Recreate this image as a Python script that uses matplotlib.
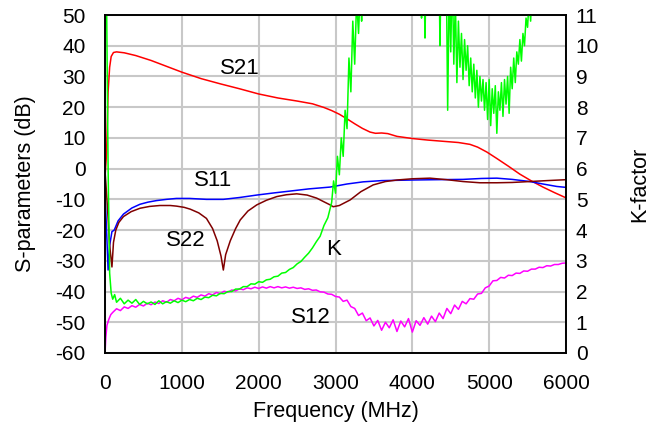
import matplotlib
matplotlib.use("Agg")
import matplotlib.pyplot as plt

plt.rcParams['font.family'] = ['Liberation Sans', 'DejaVu Sans']
plt.rcParams['axes.unicode_minus'] = False

# S21 (red)
s21_f = [0, 20, 40, 60, 80, 110, 150, 250, 400, 600, 800, 1000, 1250, 1500, 1750,
         2000, 2250, 2500, 2700, 2850, 2950, 3050, 3150, 3250, 3350, 3450, 3520,
         3600, 3680, 3800, 4000, 4200, 4400, 4600, 4750, 4850, 4970, 5100, 5250,
         5400, 5550, 5700, 5850, 6000]
s21_db = [-3, 5, 25, 33, 36.5, 37.8, 38.0, 37.7, 36.8, 35.2, 33.3, 31.4, 29.3, 27.6, 26.0,
          24.3, 23.0, 22.0, 21.1, 19.9, 18.9, 17.7, 16.2, 14.6, 13.1, 11.9, 11.5,
          11.6, 11.4, 10.5, 9.8, 9.3, 8.9, 8.5, 7.9, 7.0, 5.4, 3.3, 0.8,
          -1.8, -4.0, -6.0, -7.8, -9.5]

# S11 (blue)
s11_f = [0, 20, 40, 60, 90, 120, 170, 240, 350, 455, 560, 670, 800, 930, 1100, 1320,
         1540, 1750, 1975, 2200, 2410, 2650, 2930, 3150, 3360, 3600, 4010, 4300,
         4660, 4900, 5100, 5300, 5530, 5700, 5880, 6000]
s11_db = [-8, -20, -33, -25, -20.5, -20, -17, -14.8, -12.8, -11.6, -10.9, -10.4, -10, -9.7,
          -9.7, -10, -10, -9.4, -8.6, -7.9, -7.3, -6.6, -6.0, -5.0, -4.3, -3.9, -3.7,
          -3.6, -3.5, -3.2, -3.1, -3.5, -4.2, -5.0, -5.8, -6.1]

# S22 (dark red)
s22_f = [0, 30, 60, 90, 110, 140, 180, 240, 340, 455, 580, 715, 850, 930, 1030, 1110,
         1220, 1320, 1400, 1460, 1510, 1540, 1570, 1630, 1700, 1760, 1860, 1975, 2100,
         2235, 2360, 2495, 2630, 2755, 2850, 2930, 2970, 3050, 3190, 3330, 3490, 3650,
         3800, 4000, 4230, 4450, 4660, 4880, 5100, 5300, 5530, 5750, 6000]
s22_db = [-0.5, -12, -25, -32, -24, -20, -17.5, -15.6, -14, -12.9, -12.3, -12, -12.0, -12.2,
          -12.6, -13.2, -14.4, -16.2, -19.5, -23.5, -28.5, -33, -28, -23.5, -19.5, -16.7,
          -13.8, -11.8, -10.3, -9.1, -8.5, -8.2, -8.6, -9.6, -10.8, -11.8, -12.4, -12.0,
          -10.2, -7.5, -5.3, -4.2, -3.7, -3.3, -3.1, -3.6, -4.2, -4.6, -4.6, -4.5, -4.2,
          -3.9, -3.6]

# S12 (magenta)
s12_f = [0, 10, 25, 50, 75] + list(range(100, 6001, 50))
s12_db = [-60, -55, -51, -49, -47.5,
          -46.8, -45.6, -46.2, -45.0, -45.5, -44.6, -45.1, -44.2, -44.7, -43.8,
          -44.3, -43.4, -43.9, -43.0, -43.5, -42.6, -43.0, -42.2, -42.7, -41.9,
          -42.3, -41.5, -41.9, -41.1, -41.5, -40.7, -41.1, -40.3, -40.7, -39.9,
          -40.2, -39.5, -39.8, -39.1, -39.4, -38.8, -39.1, -38.6, -39.0, -38.5,
          -38.9, -38.4, -38.8, -38.4, -38.8, -38.5, -38.9, -38.6, -39.0, -38.8,
          -39.3, -39.1, -39.6, -39.5, -40.1, -40.2, -40.8, -40.9, -41.6,
          -41.8, -43.2, -42.8, -44.9, -45.5, -47.8, -47.0, -49.5, -48.6, -51.2,
          -49.4, -52.6, -50.0, -51.8, -49.2, -53.0, -49.6, -51.5, -48.8, -53.2,
          -49.5, -51.0, -48.5, -50.6, -48.0, -49.8, -47.0, -48.8, -45.5, -47.2,
          -44.4, -45.8, -43.2, -44.0, -42.3, -42.5, -40.8, -40.6, -38.8, -38.2,
          -36.5, -36.4, -35.4, -35.6, -34.7, -34.8, -34.0, -34.1, -33.3, -33.4,
          -32.7, -32.7, -32.1, -32.2, -31.6, -31.7, -31.2, -31.2, -30.8, -30.7]

# K-factor (green, right axis)
k_f = [0, 20, 40, 60, 80, 100, 125, 150, 200, 250, 300, 350, 400, 450, 500, 550, 600,
       650, 700, 750, 800, 850, 900, 950, 1000, 1050, 1100, 1150, 1200, 1250, 1300,
       1350, 1400, 1450, 1500, 1550, 1600, 1650, 1700, 1750, 1800, 1850, 1900, 1950,
       2000, 2050, 2100, 2150, 2200, 2250, 2300, 2350, 2400, 2450, 2500, 2550, 2600,
       2650, 2700, 2750, 2800, 2850, 2900, 2950, 2975, 3000, 3025, 3050, 3075, 3100,
       3125, 3150, 3175, 3200, 3225, 3250, 3275, 3300, 3325, 3340, 3360, 3500, 3700,
       3900, 4100, 4120, 4140, 4165, 4190, 4340, 4360, 4380, 4420,
       4440, 4460, 4480, 4500, 4520, 4540, 4560, 4580, 4600, 4620, 4640, 4660, 4680,
       4700, 4720, 4740, 4760, 4780, 4800, 4820, 4840, 4860, 4880, 4900, 4920, 4940,
       4960, 4980, 5000, 5020, 5040, 5060, 5080, 5100, 5120, 5140, 5160, 5180, 5200,
       5220, 5240, 5260, 5280, 5300, 5320, 5340, 5360, 5380, 5400, 5420, 5440, 5460,
       5480, 5500, 5520, 5540, 5560, 5600, 5700, 6000]
k_val = [14, 11.5, 6, 2.6, 1.95, 1.75, 1.9, 1.65, 1.78, 1.6, 1.72, 1.62, 1.74, 1.58, 1.68,
         1.6, 1.66, 1.58, 1.7, 1.6, 1.67, 1.62, 1.7, 1.64, 1.72, 1.67, 1.74, 1.7, 1.78,
         1.74, 1.82, 1.8, 1.88, 1.86, 1.94, 1.93, 2.0, 2.0, 2.08, 2.08, 2.16, 2.16, 2.25,
         2.24, 2.32, 2.3, 2.38, 2.4, 2.48, 2.5, 2.6, 2.62, 2.72, 2.78, 2.9, 2.98, 3.12,
         3.25, 3.42, 3.62, 3.8, 4.15, 4.4, 4.9, 5.6, 5.2, 6.4, 5.8, 7.0, 6.4, 7.9, 7.3,
         9.6, 8.5, 10.8, 9.4, 11.5, 10.4, 12, 10.8, 13, 15, 15, 15, 14, 10.9, 14, 10.25,
         14, 14, 10.0, 13.5, 13,
         13, 7.9, 12, 9.8, 12.5, 9.4, 11.5, 8.8, 10.8, 9.3, 10.4, 8.9, 10.2, 9.2, 10.0,
         8.7, 9.6, 8.5, 9.4, 8.3, 9.2, 8.0, 9.0, 8.2, 8.9, 7.9, 8.8, 7.6, 8.9, 7.4, 8.6,
         7.8, 8.7, 7.15, 8.5, 7.9, 8.8, 7.7, 8.9, 8.1, 9.0, 7.8, 9.3, 8.6, 9.6, 8.8, 9.8,
         9.4, 10.2, 9.5, 10.4, 10.0, 10.9, 10.6, 11.5, 10.8, 12, 13, 14, 15]

fig = plt.figure(figsize=(6.54, 4.30), dpi=100)
ax = fig.add_axes([0.1606, 0.1791, 0.7048, 0.786])

ax.plot(s21_f, s21_db, color='#ff0000', lw=1.1)
ax.plot(s11_f, s11_db, color='#0000ff', lw=1.1)
ax.plot(s22_f, s22_db, color='#800000', lw=1.1)
ax.plot(s12_f, s12_db, color='#ff00ff', lw=1.1)

ax.set_xlim(0, 6000)
ax.set_ylim(-60, 50)
ax.set_xticks(range(0, 6001, 1000))
ax.set_yticks(range(-60, 51, 10))
ax.grid(True, color='#c8c8c8', lw=1.5)
ax.set_axisbelow(True)
ax.tick_params(axis='x', length=0, labelsize=15, pad=15)
ax.tick_params(axis='y', length=0, labelsize=15, pad=14)
ax.set_xlabel('Frequency (MHz)', fontsize=15.5, labelpad=6)
ax.set_ylabel('S-parameters (dB)', fontsize=15.5, labelpad=14)

ax2 = ax.twinx()
ax2.plot(k_f, k_val, color='#00ff00', lw=1.1)
ax2.set_ylim(0, 11)
ax2.set_yticks(range(0, 12))
ax2.tick_params(length=0, labelsize=15, pad=7)
ax2.set_ylabel('K-factor', fontsize=15.5, labelpad=22)

for a in (ax, ax2):
    for s in a.spines.values():
        s.set_linewidth(1.2)

ax.text(1757, 32.75, 'S21', fontsize=16, ha='center', va='center')
ax.text(1406, -4.0, 'S11', fontsize=16, ha='center', va='center')
ax.text(1054, -23.5, 'S22', fontsize=16, ha='center', va='center')
ax.text(2981, -26.4, 'K', fontsize=16, ha='center', va='center')
ax.text(2681, -48.6, 'S12', fontsize=16, ha='center', va='center')

fig.savefig('out.png', dpi=100)
